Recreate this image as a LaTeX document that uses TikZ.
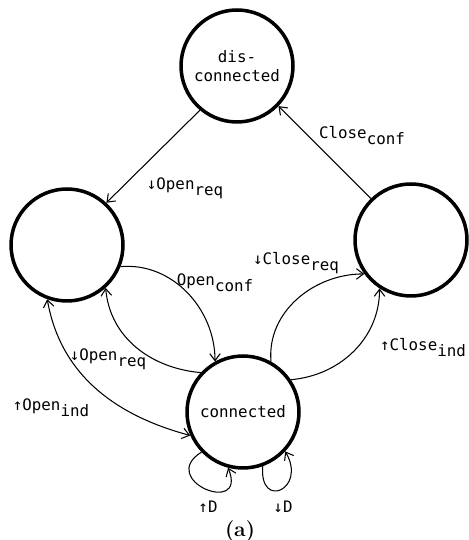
\documentclass[tikz,border=0pt]{standalone}
\usepackage{fontspec}
\usetikzlibrary{arrows.meta}
\newfontfamily\typew{DejaVu Sans Mono}
\newcommand{\lowtxt}[1]{\raisebox{-0.7ex}{#1}}
\newcommand{\dnar}{{\small ↓}}
\newcommand{\upar}{{\small ↑}}

\begin{document}
\begin{tikzpicture}[x=0.02cm, y=0.02cm,
  >={Straight Barb[length=4pt,width=6pt]},
  state/.style={circle, draw, line width=2pt, minimum size=2.24cm, inner sep=0pt,
    font=\typew\fontsize{9}{10.5}\selectfont, align=center},
  trans/.style={->, semithick},
  lbl/.style={font=\typew\fontsize{9}{10.5}\selectfont, inner sep=1pt}]
\useasboundingbox (0,0) rectangle (469,540);

% States
\node[state] (disc) at (237,474) {dis-\\connected};
\node[state] (wait) at (67,295) {};
\node[state] (clos) at (411,300) {};
\node[state] (conn) at (243,128) {connected};

% Open and close
\draw[trans] (disc.230) -- (wait.47);
\draw[trans] (clos.134) -- (disc.316);
\draw[trans] (wait.338) to[out=5,in=90] (conn.119);
\draw[trans] (conn.137) to[out=175,in=275] (wait.312);
\draw[<->, semithick] (wait.250) to[out=280,in=165] (conn.204);
\draw[trans] (conn.61) to[out=95,in=180] (clos.216);
\draw[trans] (conn.34) to[out=5,in=270] (clos.237);

% Data loops
\draw[trans] (conn.224) .. controls +(212:53) and +(292:53) .. (conn.255);
\draw[trans] (conn.290) .. controls +(265:44) and +(300:44) .. (conn.317);

% Labels
\node[lbl] (l1) at (185,352) {\dnar Open\lowtxt{req}};
\node[lbl] (l2) at (362,404) {Close\lowtxt{conf}};
\node[lbl] (l3) at (296,277) {\dnar Close\lowtxt{req}};
\node[lbl] (l4) at (215,257) {Open\lowtxt{conf}};
\node[lbl] (l5) at (108,181) {\dnar Open\lowtxt{req}};
\node[lbl] (l6) at (51,132) {\upar Open\lowtxt{ind}};
\node[lbl] (l7) at (423,192) {\upar Close\lowtxt{ind}};
\node[lbl] (l8) at (208,33) {\upar D};
\node[lbl] (l9) at (283,33) {\dnar D};
\node[font=\large\bfseries] (cap) at (240,9) {(a)};
\end{tikzpicture}
\end{document}
